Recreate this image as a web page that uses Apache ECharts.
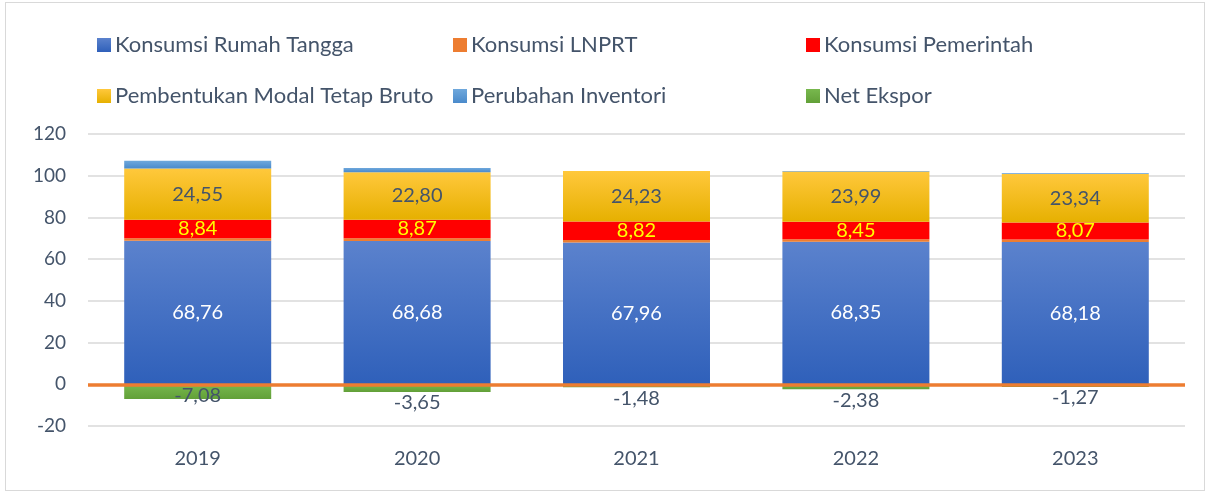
<!DOCTYPE html>
<html>
<head>
<meta charset="utf-8">
<script src="https://cdn.jsdelivr.net/npm/echarts@6/dist/echarts.min.js"></script>
<style>
  html, body { margin: 0; padding: 0; background: #fff; }
  #chart { position: absolute; left: 0; top: 0; width: 1209px; height: 493px; }
  #frame { position: absolute; left: 5px; top: 2px; width: 1198px; height: 487px; border: 1px solid #D9D9D9; }
</style>
</head>
<body>
<div id="frame"></div>
<div id="chart"></div>
<script>
var years = ['2019', '2020', '2021', '2022', '2023'];
var rumahTangga = [68.76, 68.68, 67.96, 68.35, 68.18];
var lnprt = [1.30, 1.35, 1.24, 1.18, 1.29];
var pemerintah = [8.84, 8.87, 8.82, 8.45, 8.07];
var pmtb = [24.55, 22.80, 24.23, 23.99, 23.34];
var inventori = [3.75, 2.05, 0, 0.35, 0.35];
var netEkspor = [-7.08, -3.65, -1.48, -2.38, -1.27];
var yTicks = { min: -20, max: 120, step: 20 };

var FONT = 'Lato';
var TXT = '#44546A';

function fmt(p) {
  return p.value.toFixed(2).replace('.', ',');
}

function grad(top, bottom) {
  return new echarts.graphic.LinearGradient(0, 0, 0, 1, [
    { offset: 0, color: top },
    { offset: 1, color: bottom }
  ]);
}

var chart = echarts.init(document.getElementById('chart'));

var names = ['Konsumsi Rumah Tangga', 'Konsumsi LNPRT', 'Konsumsi Pemerintah',
  'Pembentukan Modal Tetap Bruto', 'Perubahan Inventori', 'Net Ekspor'];
var legendPos = [[92, 29], [448, 29], [801, 29], [92, 80], [448, 80], [801, 80]];

var legends = names.map(function (n, i) {
  return {
    data: [n],
    left: legendPos[i][0],
    top: legendPos[i][1],
    itemWidth: 14,
    itemHeight: 14,
    itemGap: 4,
    icon: 'rect',
    textStyle: { fontFamily: FONT, fontSize: 22, color: TXT, padding: [0, 0, 0, -1] }
  };
});

function barSeries(name, data, color, label) {
  return {
    name: name,
    type: 'bar',
    stack: 'pdb',
    barWidth: '67%',
    data: data,
    itemStyle: { color: color },
    label: label || { show: false }
  };
}

// net ekspor: label under the bar, except 2019 where it sits inside
var netData = netEkspor.map(function (v, i) {
  return i === 0 ? { value: v, label: { position: 'insideTop', distance: 1 } } : v;
});
var netSeries = barSeries(names[5], netData, grad('#78B84E', '#62A038'),
  { show: true, position: 'bottom', distance: 1, color: TXT, fontSize: 20, fontFamily: FONT, formatter: fmt });
netSeries.markLine = {
  silent: true,
  symbol: 'none',
  z: 10,
  label: { show: false },
  lineStyle: { color: '#ED7D31', width: 3.5, type: 'solid' },
  data: [{ yAxis: 0 }]
};

var option = {
  animation: false,
  textStyle: { fontFamily: FONT },
  legend: legends,
  grid: { left: 88, right: 24, top: 134, bottom: 67, outerBoundsMode: 'none' },
  xAxis: {
    type: 'category',
    data: years,
    axisTick: { show: false },
    axisLine: { show: false, onZero: false },
    axisLabel: { fontFamily: FONT, fontSize: 20, color: TXT, margin: 23 }
  },
  yAxis: {
    type: 'value',
    min: yTicks.min,
    max: yTicks.max,
    interval: yTicks.step,
    axisLine: { show: false },
    axisTick: { show: false },
    axisLabel: { fontFamily: FONT, fontSize: 19, color: TXT, margin: 22 },
    splitLine: { lineStyle: { color: '#D9D9D9', width: 1.5 } }
  },
  series: [
    barSeries(names[0], rumahTangga, grad('#5B82CD', '#2F60BA'),
      { show: true, position: 'inside', color: '#fff', fontSize: 20, fontFamily: FONT, formatter: fmt }),
    barSeries(names[1], lnprt, '#ED7D31'),
    barSeries(names[2], pemerintah, '#FF0000',
      { show: true, position: 'inside', color: '#FFFF00', fontSize: 20, fontFamily: FONT, formatter: fmt }),
    barSeries(names[3], pmtb, grad('#FFC83C', '#E6B000'),
      { show: true, position: 'inside', color: TXT, fontSize: 20, fontFamily: FONT, formatter: fmt }),
    barSeries(names[4], inventori, grad('#6FA8DC', '#4A8ACB')),
    netSeries
  ]
};

chart.setOption(option);
</script>
</body>
</html>
